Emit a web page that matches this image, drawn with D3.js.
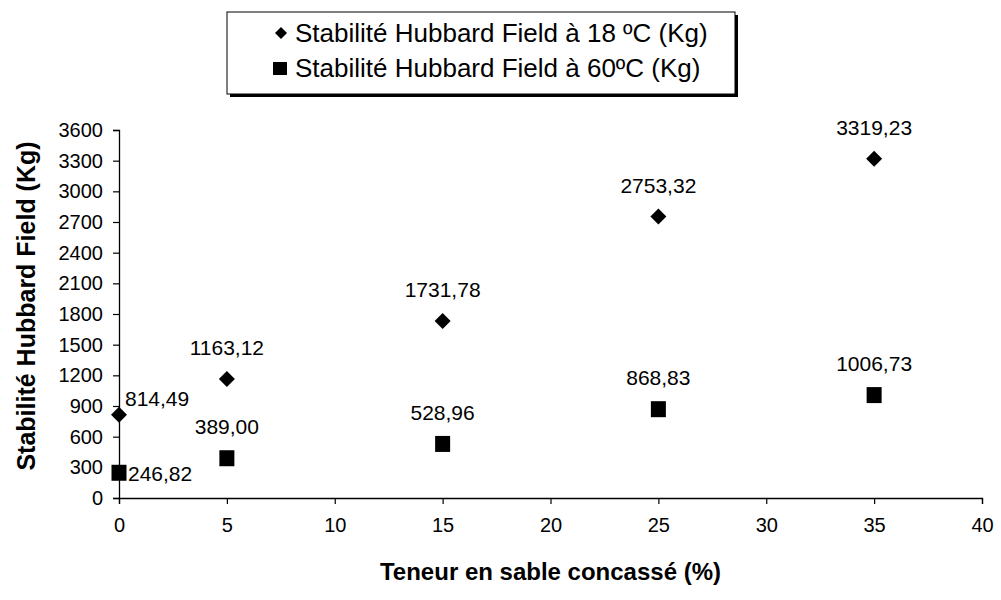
<!DOCTYPE html>
<html>
<head>
<meta charset="utf-8">
<script src="https://cdn.jsdelivr.net/npm/d3@7"></script>
<style>
  html, body { margin: 0; padding: 0; background: #fff; }
  svg { display: block; font-family: Arial, "Liberation Sans", sans-serif; }
</style>
</head>
<body>
<svg id="chart" width="1001" height="600"></svg>
<script>
// Sand content (%) and Hubbard Field stability (kg) at two temperatures
const sandContent = [0, 5, 15, 25, 35];
const stability18 = [814.49, 1163.12, 1731.78, 2753.32, 3319.23];
const stability60 = [246.82, 389.00, 528.96, 868.83, 1006.73];
const seriesNames = ["Stabilité Hubbard Field à 18 ºC (Kg)", "Stabilité Hubbard Field à 60ºC (Kg)"];
const xTicks = [0, 5, 10, 15, 20, 25, 30, 35, 40];
const yTicks = [0, 300, 600, 900, 1200, 1500, 1800, 2100, 2400, 2700, 3000, 3300, 3600];
const xTitle = "Teneur en sable concassé (%)";
const yTitle = "Stabilité Hubbard Field (Kg)";

const svg = d3.select("#chart");
const fmt = v => v.toFixed(2).replace(".", ",");

const x = d3.scaleLinear().domain([0, 40]).range([119, 982]);
const y = d3.scaleLinear().domain([0, 3600]).range([498, 130]);

// Axes
const xAxis = svg.append("g")
  .attr("transform", `translate(0,${y(0)})`)
  .call(d3.axisBottom(x).tickValues(xTicks).tickFormat(d3.format("d")).tickSize(6).tickPadding(14));
const yAxis = svg.append("g")
  .attr("transform", `translate(${x(0)},0)`)
  .call(d3.axisLeft(y).tickValues(yTicks).tickFormat(d3.format("d")).tickSize(6).tickPadding(10));
[xAxis, yAxis].forEach(g => {
  g.select(".domain").attr("stroke", "#000").attr("stroke-width", 1.3);
  g.selectAll(".tick line").attr("stroke", "#000").attr("stroke-width", 1.2);
  g.selectAll("text").attr("fill", "#000").attr("font-size", 20)
    .attr("font-family", "Arial, 'Liberation Sans', sans-serif");
});

// Axis titles
svg.append("text")
  .attr("x", (x(0) + x(40)) / 2).attr("y", 580)
  .attr("text-anchor", "middle").attr("font-size", 24).attr("font-weight", "bold")
  .text(xTitle);
svg.append("text")
  .attr("transform", `translate(28,306) rotate(-90)`)
  .attr("text-anchor", "middle").attr("dominant-baseline", "middle")
  .attr("font-size", 25).attr("font-weight", "bold")
  .text(yTitle);

const pts18 = sandContent.map((s, i) => ({ s, v: stability18[i] }));
const pts60 = sandContent.map((s, i) => ({ s, v: stability60[i] }));

// 18 °C series: diamonds
svg.append("g").selectAll("path").data(pts18).join("path")
  .attr("transform", d => `translate(${x(d.s)},${y(d.v)})`)
  .attr("d", "M0,-8L8,0L0,8L-8,0Z").attr("fill", "#000");
// 60 °C series: squares
svg.append("g").selectAll("rect").data(pts60).join("rect")
  .attr("x", d => x(d.s) - 7.5).attr("y", d => y(d.v) - 8)
  .attr("width", 15).attr("height", 16).attr("fill", "#000");

// Value labels: centred above each marker, except the first point of each series
function labels(pts, firstDx, firstDy) {
  svg.append("g").selectAll("text").data(pts).join("text")
    .attr("font-size", 21)
    .attr("text-anchor", d => d.s === 0 ? "start" : "middle")
    .attr("x", d => d.s === 0 ? x(d.s) + firstDx : x(d.s))
    .attr("y", d => d.s === 0 ? y(d.v) + firstDy : y(d.v) - 24)
    .text(d => fmt(d.v));
}
labels(pts18, 6, -9);
labels(pts60, 9, 8);

// Legend with drop shadow
const lg = svg.append("g");
lg.append("rect").attr("x", 230).attr("y", 15).attr("width", 508).attr("height", 82).attr("fill", "#000");
lg.append("rect").attr("x", 227).attr("y", 12).attr("width", 508).attr("height", 82)
  .attr("fill", "#fff").attr("stroke", "#000").attr("stroke-width", 1);
lg.append("path").attr("transform", "translate(281,33)").attr("d", "M0,-6L6,0L0,6L-6,0Z").attr("fill", "#000");
lg.append("rect").attr("x", 273).attr("y", 62).attr("width", 14).attr("height", 13).attr("fill", "#000");
lg.append("text").attr("x", 295).attr("y", 42).attr("font-size", 26).text(seriesNames[0]);
lg.append("text").attr("x", 295).attr("y", 77).attr("font-size", 26).text(seriesNames[1]);
</script>
</body>
</html>
